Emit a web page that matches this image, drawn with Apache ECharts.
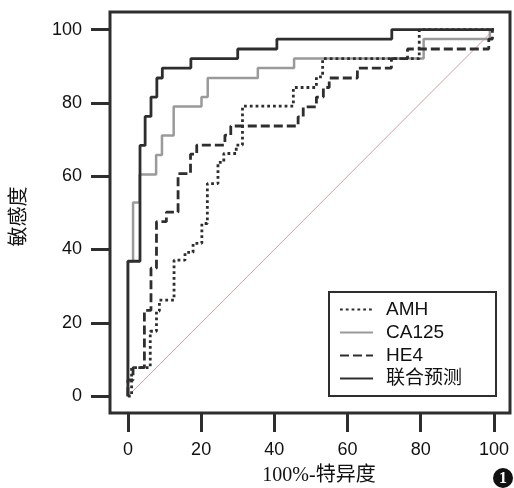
<!DOCTYPE html>
<html>
<head>
<meta charset="utf-8">
<script src="https://cdn.jsdelivr.net/npm/echarts@6/dist/echarts.min.js"></script>
<style>html,body{margin:0;padding:0;background:#fff;}#c{width:514px;height:488px;}</style>
</head>
<body>
<div id="c"></div>
<script>
// ROC step corners (1 - specificity %, sensitivity %); step drawn vertical-then-horizontal
const amhX = [0, 1.0, 6.1, 7.8, 8.6, 12.6, 15.6, 17.8, 20.2, 21.7, 24.6, 26.2, 29.6, 31.3, 45.2, 51.5, 53.2, 79.6, 100];
const amhY = [0, 0, 7.8, 17.7, 23.2, 26.2, 37.1, 39.2, 41.7, 47.1, 58.0, 63.8, 66.2, 68.5, 79.1, 84.2, 87.1, 92.1, 100];

const ca125X = [0, 1.4, 3.2, 7.7, 9.3, 12.5, 20.1, 21.8, 35.5, 45.4, 80.8, 98.9, 100];
const ca125Y = [0, 36.8, 52.8, 60.5, 65.8, 71.1, 79.0, 81.6, 86.8, 89.5, 92.1, 97.4, 100];

const he4X = [0, 1.4, 4.5, 6.3, 7.8, 10.5, 13.7, 17.1, 18.8, 26.5, 28.1, 46.5, 47.9, 51.5, 53.4, 55.0, 62.7, 72.0, 76.4, 98.6, 99.6, 100];
const he4Y = [0, 4.4, 7.8, 23.4, 34.9, 47.6, 50.2, 60.7, 66.0, 68.5, 71.2, 73.7, 76.2, 78.9, 81.6, 84.2, 86.8, 89.5, 92.1, 94.7, 97.4, 100];

const combX = [0, 3.3, 4.7, 6.3, 7.9, 9.4, 17.2, 30.0, 40.7, 72.1, 100];
const combY = [0, 36.8, 68.4, 76.3, 81.6, 86.8, 89.5, 92.1, 94.7, 97.4, 100];

const refX = [0, 100];
const refY = [0, 100];

const tickValues = [0, 20, 40, 60, 80, 100];
// axis extent (the frame sits a little outside 0..100)
const xRange = [-4.9, 104.4];
const yRange = [-4.6, 104.8];

const seriesNames = ['AMH', 'CA125', 'HE4', '联合预测'];
const xName = '100%-特异度';
const yName = '敏感度';

function zip(xs, ys) { return xs.map((x, i) => [x, ys[i]]); }

const dark = '#2e2e2e';
const sansFont = '"Liberation Sans", Arial, sans-serif';
const serifFont = '"Liberation Serif", "Noto Sans CJK SC", serif';
const legendFont = '"Liberation Sans", "Noto Sans CJK SC", sans-serif';

const chart = echarts.init(document.getElementById('c'), null, {renderer: 'canvas'});
chart.setOption({
  animation: false,
  backgroundColor: '#fff',
  grid: {left: 110, top: 12, right: 4, bottom: 75, containLabel: false, outerBoundsMode: 'none',
         show: true, borderColor: dark, borderWidth: 3, backgroundColor: 'transparent'},
  xAxis: {
    type: 'value', min: xRange[0], max: xRange[1],
    axisLine: {show: false, onZero: false},
    axisTick: {show: true, inside: false, length: 19, customValues: tickValues, lineStyle: {color: dark, width: 3}},
    splitLine: {show: false},
    axisLabel: {margin: 28, customValues: tickValues, color: '#111', fontSize: 18, fontFamily: sansFont},
    name: xName, nameLocation: 'middle', nameGap: 53,
    nameTextStyle: {fontSize: 20, color: '#111', fontFamily: serifFont, padding: [0, 0, 0, 18]}
  },
  yAxis: {
    type: 'value', min: yRange[0], max: yRange[1],
    axisLine: {show: false, onZero: false},
    axisTick: {show: true, inside: false, length: 19, customValues: tickValues, lineStyle: {color: dark, width: 3}},
    splitLine: {show: false},
    axisLabel: {margin: 28, customValues: tickValues, color: '#111', fontSize: 18, fontFamily: sansFont},
    name: yName, nameLocation: 'middle', nameGap: 80,
    nameTextStyle: {fontSize: 20, color: '#111', fontFamily: serifFont, padding: [0, 8, 0, 0]}
  },
  legend: {
    data: seriesNames,
    orient: 'vertical',
    left: 329, top: 292,
    padding: [8, 34, 8, 10],
    itemGap: 4,
    itemWidth: 33, itemHeight: 14,
    borderColor: dark, borderWidth: 2,
    backgroundColor: '#fff',
    itemStyle: {opacity: 0, color: 'rgba(0,0,0,0)', borderWidth: 0},
    textStyle: {fontSize: 19, color: '#111', fontFamily: legendFont, lineHeight: 19, padding: [0, 0, 0, 8]}
  },
  series: [
    {type: 'line', name: 'ref', data: zip(refX, refY), symbol: 'none',
     lineStyle: {color: '#c9a4a4', width: 1}, silent: true},
    {type: 'line', name: 'CA125', data: zip(ca125X, ca125Y), step: 'start', symbol: 'none',
     color: '#9a9a9a', lineStyle: {color: '#9a9a9a', width: 2.5}},
    {type: 'line', name: 'HE4', data: zip(he4X, he4Y), step: 'start', symbol: 'none',
     color: dark, lineStyle: {color: dark, width: 2.8, type: [9, 4]}},
    {type: 'line', name: 'AMH', data: zip(amhX, amhY), step: 'start', symbol: 'none',
     color: dark, lineStyle: {color: dark, width: 2.8, type: [2.8, 3]}},
    {type: 'line', name: '联合预测', data: zip(combX, combY), step: 'start', symbol: 'none',
     color: dark, lineStyle: {color: dark, width: 2.8}}
  ],
  graphic: [
    {type: 'circle', shape: {cx: 503, cy: 478, r: 10}, style: {fill: '#111'}},
    {type: 'text', x: 503, y: 479, style: {text: '1', align: 'center', verticalAlign: 'middle', fill: '#fff', font: 'bold 16px "Liberation Serif"'}}
  ]
});
</script>
</body>
</html>
